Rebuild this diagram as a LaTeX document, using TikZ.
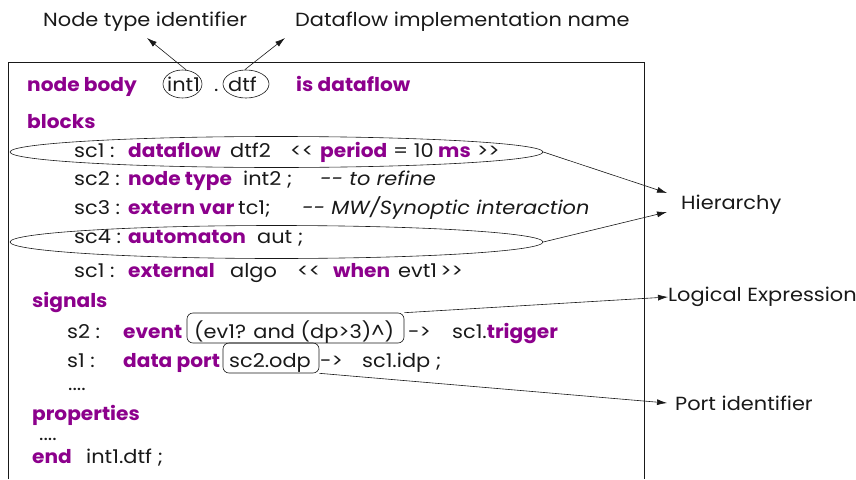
\documentclass[tikz,border=0pt]{standalone}
\usepackage{fontspec}
\setmainfont[FakeStretch=1.1,BoldFeatures={FakeStretch=1.06}]{Poppins}
\usetikzlibrary{arrows.meta,shapes.geometric}
\definecolor{kw}{RGB}{140,0,140}
\definecolor{ink}{RGB}{25,25,25}
\begin{document}
\begin{tikzpicture}[x=1pt,y=-1pt,
  txt/.style={anchor=base west,inner sep=0pt,text=ink,font=\fontsize{19}{22}\selectfont},
  kwd/.style={txt,text=kw,font=\fontsize{19}{22}\selectfont\bfseries},
  cmt/.style={txt,font=\fontsize{19}{22}\selectfont\itshape},
  tip/.style={draw=ink,line width=0.6pt,-{Latex[length=10pt,width=6pt]}},
  oval/.style={draw=ink,ellipse,line width=0.6pt,inner sep=0pt},
  rbox/.style={draw=ink,rounded corners=6pt,line width=0.6pt,inner sep=0pt}]
\useasboundingbox (0,0) rectangle (856,479);

% frame of the listing (open at the bottom)
\draw[ink,line width=0.8pt] (8,479) -- (8,62) -- (644,62) -- (644,479);

% captions above the listing
\node[txt] (capid) at (43,26) {Node type identifier};
\node[txt] (capimpl) at (295,26) {Dataflow implementation name};
\coordinate (capidtip) at (147,38);
\coordinate (capimpltip) at (285,38);

% header line
\node[kwd] (hnb) at (27,91) {node body};
\node[oval,minimum width=39,minimum height=28] (int1e) at (182.5,84) {};
\node[txt] (hint) at (167,91) {int1};
\node[txt] (hdot) at (214,91) {.};
\node[oval,minimum width=46,minimum height=28] (dtfe) at (246,84) {};
\node[txt] (hdtf) at (228,91) {dtf};
\node[kwd] (hisdf) at (296,91) {is dataflow};
\draw[tip] (int1e.75) -- (capidtip);
\draw[tip] (dtfe.95) -- (capimpltip);

% blocks section
\node[kwd] (blk) at (27,128) {blocks};

\node[txt] (a1) at (74,157) {sc1 :};
\node[kwd] (a2) at (128,157) {dataflow};
\node[txt] (a3) at (230,157) {dtf2};
\node[txt] (a4) at (290,157) {<{}<};
\node[kwd] (a5) at (320,157) {period};
\node[txt] (a6) at (393,157) {= 10};
\node[kwd] (a7) at (438,157) {ms};
\node[txt] (a8) at (477,157) {>{}>};

\node[txt] (b1) at (74,185) {sc2 :};
\node[kwd] (b2) at (128,185) {node type};
\node[txt] (b3) at (243,185) {int2 ;};
\node[cmt] (b4) at (320,185) {-{}- to refine};

\node[txt] (c1) at (74,214) {sc3 :};
\node[kwd] (c2) at (128,214) {extern var};
\node[txt] (c3) at (238,214) {tc1;};
\node[cmt] (c4) at (302,214) {-{}- MW/Synoptic interaction};

\node[txt] (d1) at (74,243) {sc4 :};
\node[kwd] (d2) at (128,243) {automaton};
\node[txt] (d3) at (257,243) {aut ;};

\node[txt] (e1) at (74,277) {sc1 :};
\node[kwd] (e2) at (128,277) {external};
\node[txt] (e3) at (230,277) {algo};
\node[txt] (e4) at (297,277) {<{}<};
\node[kwd] (e5) at (333,277) {when};
\node[txt] (e6) at (398,277) {evt1\,>{}>};

% hierarchy highlights
\node[oval,minimum width=533,minimum height=31] (hier1) at (276.5,152) {};
\node[oval,minimum width=533,minimum height=33] (hier2) at (276.5,242) {};

% signals section
\node[kwd] (sig) at (32,307) {signals};
\node[txt] (f1) at (67,338) {s2 :};
\node[kwd] (f2) at (123,338) {event};
\node[rbox,minimum width=217,minimum height=30] (evbox) at (295.5,328) {};
\node[txt] (f3) at (194,338) {(ev1? and (dp>3)\textasciicircum)};
\node[txt] (f4) at (408,338) {-{}>};
\node[txt] (f5) at (452,338) {sc1.\textcolor{kw}{\bfseries trigger}};

\node[txt] (g1) at (67,367) {s1 :};
\node[kwd] (g2) at (123,367) {data port};
\node[rbox,minimum width=96,minimum height=30] (odbox) at (271,358) {};
\node[txt] (g3) at (229,367) {sc2.odp};
\node[txt] (g4) at (320,367) {-{}>};
\node[txt] (g5) at (362,367) {sc1.idp ;};
\node[txt] (g6) at (68,390) {....};

% properties section
\node[kwd] (prop) at (32,420) {properties};
\node[txt] (h1) at (39,440) {....};
\node[kwd] (h2) at (32,463) {end};
\node[txt] (h3) at (86,463) {int1.dtf ;};

% annotations on the right
\node[txt,anchor=west] (lhier) at (681,205) {Hierarchy};
\node[txt,anchor=west] (llog) at (668,297) {Logical Expression};
\node[txt,anchor=west] (lport) at (675,403) {Port identifier};
\coordinate (hiertipa) at (667,193);
\coordinate (hiertipb) at (667,212);
\coordinate (logtip) at (668,297);
\coordinate (porttip) at (667,403);
\draw[tip] (hier1.east) -- (hiertipa);
\draw[tip] (hier2.east) -- (hiertipb);
\draw[tip] (evbox.north east) -- (logtip);
\draw[tip] (odbox.south east) -- (porttip);
\end{tikzpicture}
\end{document}
